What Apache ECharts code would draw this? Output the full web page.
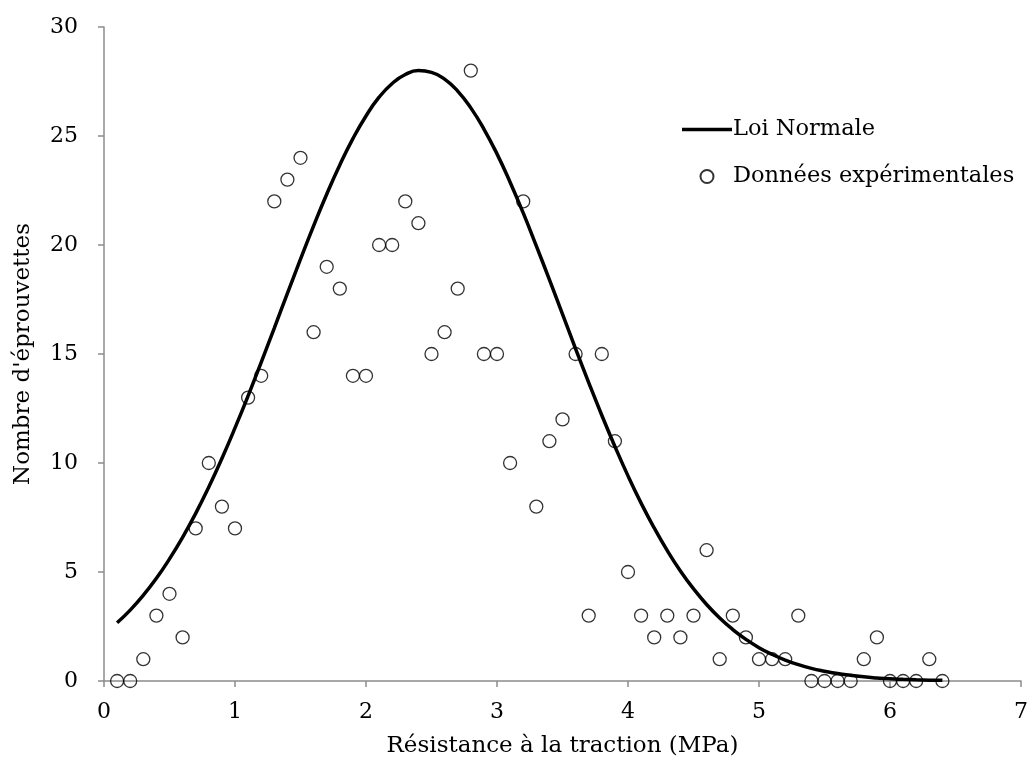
<!DOCTYPE html>
<html>
<head>
<meta charset="utf-8">
<script src="https://cdn.jsdelivr.net/npm/echarts@6/dist/echarts.min.js"></script>
<style>html,body{margin:0;padding:0;background:#fff}#c{width:1032px;height:772px}</style>
</head>
<body>
<div id="c"></div>
<script>
// Experimental data (x in MPa, count)
const expX = [0.1,0.2,0.3,0.4,0.5,0.6,0.7,0.8,0.9,1.0,1.1,1.2,1.3,1.4,1.5,1.6,1.7,1.8,1.9,2.0,2.1,2.2,2.3,2.4,2.5,2.6,2.7,2.8,2.9,3.0,3.1,3.2,3.3,3.4,3.5,3.6,3.7,3.8,3.9,4.0,4.1,4.2,4.3,4.4,4.5,4.6,4.7,4.8,4.9,5.0,5.1,5.2,5.3,5.4,5.5,5.6,5.7,5.8,5.9,6.0,6.1,6.2,6.3,6.4];
const expY = [0,0,1,3,4,2,7,10,8,7,13,14,22,23,24,16,19,18,14,14,20,20,22,21,15,16,18,28,15,15,10,22,8,11,12,15,3,15,11,5,3,2,3,2,3,6,1,3,2,1,1,1,3,0,0,0,0,1,2,0,0,0,1,0];
// Normal curve
const curveX = [0.1,0.2,0.3,0.4,0.5,0.6,0.7,0.8,0.9,1.0,1.1,1.2,1.3,1.4,1.5,1.6,1.7,1.8,1.9,2.0,2.1,2.2,2.3,2.4,2.5,2.6,2.7,2.8,2.9,3.0,3.1,3.2,3.3,3.4,3.5,3.6,3.7,3.8,3.9,4.0,4.1,4.2,4.3,4.4,4.5,4.6,4.7,4.8,4.9,5.0,5.1,5.2,5.3,5.4,5.5,5.6,5.7,5.8,5.9,6.0,6.1,6.2,6.3,6.4];
const curveY = [2.67,3.25,3.93,4.71,5.6,6.59,7.69,8.9,10.21,11.61,13.08,14.62,16.19,17.78,19.35,20.88,22.33,23.67,24.88,25.92,26.78,27.41,27.82,28.0,27.92,27.61,27.06,26.29,25.32,24.18,22.88,21.47,19.96,18.41,16.83,15.24,13.69,12.19,10.76,9.41,8.16,7.02,5.98,5.05,4.23,3.51,2.89,2.36,1.91,1.53,1.22,0.96,0.75,0.58,0.45,0.34,0.26,0.19,0.14,0.1,0.075,0.055,0.04,0.03];
const xTitle = 'Résistance à la traction (MPa)';
const yTitle = "Nombre d'éprouvettes";
const seriesNames = ['Loi Normale', 'Données expérimentales'];

const FONT = 'DejaVu Serif';
const chart = echarts.init(document.getElementById('c'), null, {renderer: 'canvas'});
const axisCol = '#8c8c8c';
chart.setOption({
  animation: false,
  backgroundColor: '#fff',
  textStyle: {fontFamily: FONT, color: '#000'},
  grid: {left: 104, right: 11, top: 27, bottom: 91, containLabel: false, outerBoundsMode: 'none'},
  legend: {
    orient: 'vertical', left: 677, top: 113, itemGap: 24,
    itemWidth: 50, itemHeight: 13,
    textStyle: {fontFamily: FONT, fontSize: 22.5, color: '#000', padding: [0,0,0,-4]},
    data: [
      {name: seriesNames[0], icon: 'path://M0,0 L50,0 L50,3.5 L0,3.5 Z', itemStyle: {color: '#000'}},
      {name: seriesNames[1]}
    ]
  },
  xAxis: {
    type: 'value', min: 0, max: 7, interval: 1,
    name: xTitle, nameLocation: 'middle', nameGap: 54,
    nameTextStyle: {fontFamily: FONT, fontSize: 23, color: '#000'},
    axisLine: {lineStyle: {color: axisCol, width: 1.5}},
    axisTick: {show: true, length: 6, lineStyle: {color: axisCol, width: 1.5}},
    axisLabel: {fontFamily: FONT, fontSize: 22, color: '#000', margin: 20},
    splitLine: {show: false}
  },
  yAxis: {
    type: 'value', min: 0, max: 30, interval: 5,
    name: yTitle, nameLocation: 'middle', nameGap: 69, nameRotate: 90,
    nameTextStyle: {fontFamily: FONT, fontSize: 23, color: '#000'},
    axisLine: {show: true, lineStyle: {color: axisCol, width: 1.5}},
    axisTick: {show: true, length: 6, lineStyle: {color: axisCol, width: 1.5}},
    axisLabel: {fontFamily: FONT, fontSize: 22, color: '#000', margin: 26},
    splitLine: {show: false}
  },
  series: [
    {
      name: seriesNames[0], type: 'line', smooth: true, symbol: 'none',
      data: curveX.map((x, i) => [x, curveY[i]]),
      lineStyle: {color: '#000', width: 3.5},
      itemStyle: {color: '#000'},
      z: 2
    },
    {
      name: seriesNames[1], type: 'scatter', symbol: 'circle', symbolSize: 13,
      data: expX.map((x, i) => [x, expY[i]]),
      itemStyle: {color: 'rgba(255,255,255,0)', borderColor: '#000', borderWidth: 1.3},
      z: 3
    }
  ]
});
</script>
</body>
</html>
